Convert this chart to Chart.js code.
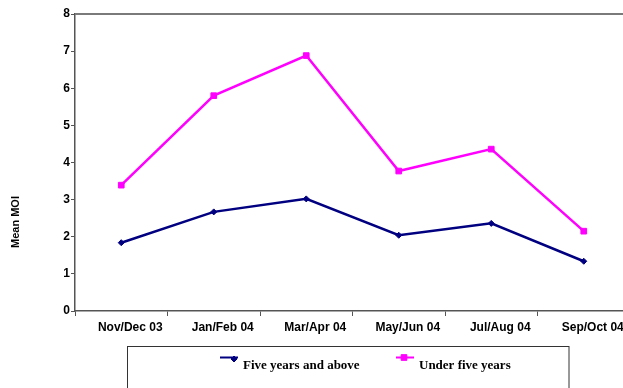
<!DOCTYPE html>
<html>
<head>
<meta charset="utf-8">
<script src="https://cdn.jsdelivr.net/npm/chart.js@4/dist/chart.umd.min.js"></script>
<style>
  html, body { margin: 0; padding: 0; background: #fff; overflow: hidden; }
  #wrap { width: 630px; height: 388px; }
</style>
</head>
<body>
<div id="wrap"><canvas id="moi" width="630" height="388"></canvas></div>
<script>
// Bimonthly survey periods
const periods = ['Nov/Dec 03', 'Jan/Feb 04', 'Mar/Apr 04', 'May/Jun 04', 'Jul/Aug 04', 'Sep/Oct 04'];
// Mean multiplicity of infection by age group
const fiveAndAbove = [1.84, 2.67, 3.02, 2.04, 2.36, 1.34];
const underFive = [3.39, 5.80, 6.88, 3.77, 4.36, 2.15];
const yTicks = [0, 1, 2, 3, 4, 5, 6, 7, 8];
const yTitle = 'Mean MOI';

// Y-axis title, placed in the left margin
const axisTitle = {
  id: 'axisTitle',
  afterDraw(chart) {
    const ctx = chart.ctx;
    ctx.save();
    ctx.translate(16, 222);
    ctx.rotate(-Math.PI / 2);
    ctx.font = 'bold 11px "Liberation Sans", Arial, sans-serif';
    ctx.fillStyle = '#000';
    ctx.textAlign = 'center';
    ctx.textBaseline = 'middle';
    ctx.fillText(yTitle, 0, 0);
    ctx.restore();
  }
};

// Top frame line of the plot area
const topFrame = {
  id: 'topFrame',
  afterDraw(chart) {
    const { ctx, chartArea } = chart;
    ctx.save();
    ctx.strokeStyle = '#7a7a7a';
    ctx.lineWidth = 2;
    ctx.beginPath();
    ctx.moveTo(chartArea.left, chartArea.top);
    ctx.lineTo(chartArea.right, chartArea.top);
    ctx.stroke();
    ctx.restore();
  }
};

// Boxed legend below the axis, built from the datasets
const boxLegend = {
  id: 'boxLegend',
  afterDraw(chart) {
    const ctx = chart.ctx;
    ctx.save();
    ctx.strokeStyle = '#333';
    ctx.lineWidth = 1;
    ctx.strokeRect(127.5, 346.5, 441.5, 60);
    const entries = [
      { x: 220, tx: 243, mx: 14, my: 1.5 },
      { x: 396, tx: 419, mx: 8, my: 0 }
    ];
    chart.data.datasets.forEach((ds, i) => {
      const e = entries[i];
      const ly = 357.5;
      ctx.strokeStyle = ds.borderColor;
      ctx.fillStyle = ds.backgroundColor;
      ctx.lineWidth = 2;
      ctx.beginPath();
      ctx.moveTo(e.x, ly);
      ctx.lineTo(e.x + 18, ly);
      ctx.stroke();
      ctx.lineWidth = 1;
      Chart.helpers.drawPoint(ctx, {
        pointStyle: ds.pointStyle,
        radius: ds.pointRadius,
        borderWidth: 1
      }, e.x + e.mx, ly + e.my);
      ctx.fillStyle = '#000';
      ctx.font = 'bold 13px "Liberation Serif", "Times New Roman", serif';
      ctx.textAlign = 'left';
      ctx.textBaseline = 'middle';
      ctx.fillText(ds.label, e.tx, 366);
    });
    ctx.restore();
  }
};

new Chart(document.getElementById('moi'), {
  type: 'line',
  data: {
    labels: periods,
    datasets: [
      {
        label: 'Five years and above',
        data: fiveAndAbove,
        borderColor: '#000080',
        backgroundColor: '#000080',
        borderWidth: 2.5,
        pointStyle: 'rectRot',
        pointRadius: 3,
        pointBorderWidth: 1,
        tension: 0
      },
      {
        label: 'Under five years',
        data: underFive,
        borderColor: '#ff00ff',
        backgroundColor: '#ff00ff',
        borderWidth: 2.5,
        pointStyle: 'rect',
        pointRadius: 4,
        pointBorderWidth: 1,
        tension: 0
      }
    ]
  },
  options: {
    responsive: false,
    animation: false,
    // the canvas is wider than the page, so the plot area runs past the right edge
    layout: { autoPadding: false, padding: { top: 14, left: 0, right: 0, bottom: 0 } },
    plugins: {
      legend: { display: false },
      tooltip: { enabled: false }
    },
    scales: {
      x: {
        offset: true,
        grid: {
          offset: true,
          drawOnChartArea: false,
          tickLength: 5,
          tickColor: '#555',
          tickWidth: 1
        },
        border: { color: '#555', width: 1.5 },
        ticks: {
          autoSkip: false,
          maxRotation: 0,
          minRotation: 0,
          labelOffset: 9,
          padding: 4,
          color: '#000',
          font: { family: '"Liberation Sans", Arial, sans-serif', size: 12, weight: 'bold' }
        },
        afterFit(scale) {
          scale.height = 77;
          scale.paddingLeft = 0;
          scale.paddingRight = 0;
        }
      },
      y: {
        min: 0,
        max: 8,
        afterBuildTicks(scale) { scale.ticks = yTicks.map(v => ({ value: v })); },
        grid: {
          drawOnChartArea: false,
          tickLength: 4,
          tickColor: '#555',
          tickWidth: 1
        },
        border: { color: '#555', width: 1.5 },
        ticks: {
          padding: 1,
          color: '#000',
          font: { family: '"Liberation Sans", Arial, sans-serif', size: 12, weight: 'bold' }
        },
        afterFit(scale) {
          scale.width = 75;
          scale.paddingTop = 0;
          scale.paddingBottom = 0;
        }
      }
    }
  },
  plugins: [axisTitle, topFrame, boxLegend]
});
</script>
</body>
</html>
